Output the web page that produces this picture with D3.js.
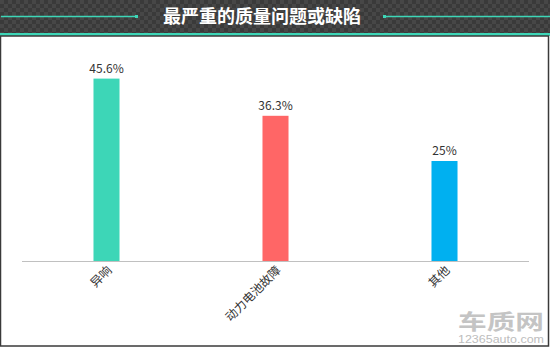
<!DOCTYPE html>
<meta charset="utf-8">
<body style="margin:0">
  <style>
    body { font-family: "Noto Sans CJK SC", "Noto Sans", sans-serif; }
    .axis path, .axis line { stroke: #c0c0c0; }
  </style>
  <div id="chart"></div>
  <script src="https://d3js.org/d3.v7.min.js"></script>
  <script>
    var categories = ["异响", "动力电池故障", "其他"];
    var values = [45.6, 36.3, 25];
    var valueLabels = ["45.6%", "36.3%", "25%"];
    var colors = ["#3dd6b7", "#ff6666", "#00b0f0"];
    var title = "最严重的质量问题或缺陷";

    var W = 550, H = 347;
    var margin = { top: 61, left: 22, right: 21, bottom: 86 };
    var width = W - margin.left - margin.right,
      height = H - margin.top - margin.bottom;

    var svg = d3.select("#chart").append("svg")
      .attr("width", W)
      .attr("height", H);

    // checkered header pattern
    var defs = svg.append("defs");
    var pat = defs.append("pattern")
      .attr("id", "checks")
      .attr("width", 8).attr("height", 8)
      .attr("patternUnits", "userSpaceOnUse");
    pat.append("rect").attr("width", 8).attr("height", 8).attr("fill", "#3a3a3a");
    pat.append("rect").attr("width", 4).attr("height", 4).attr("fill", "#474747");
    pat.append("rect").attr("x", 4).attr("y", 4).attr("width", 4).attr("height", 4).attr("fill", "#474747");

    svg.append("rect").attr("width", W).attr("height", H).attr("fill", "#fff");
    svg.append("rect").attr("width", W).attr("height", 34).attr("fill", "url(#checks)");
    svg.append("rect").attr("y", 33).attr("width", W).attr("height", 3).attr("fill", "#3dd6b7");

    // outer border for the white area
    svg.append("rect")
      .attr("x", 0.5).attr("y", 36)
      .attr("width", W - 2).attr("height", H - 37)
      .attr("fill", "none")
      .attr("stroke", "#3a3a3a")
      .attr("stroke-width", 1.5);

    // title + decorative lines
    svg.append("text")
      .attr("x", 262).attr("y", 23)
      .attr("text-anchor", "middle")
      .attr("fill", "#fff")
      .style("font-weight", "bold")
      .style("font-size", "18px")
      .text(title);

    svg.append("line").attr("x1", 1).attr("x2", 137).attr("y1", 16.5).attr("y2", 16.5)
      .attr("stroke", "#3dd6b7").attr("stroke-width", 1.5);
    svg.append("rect").attr("x", 135).attr("y", 15).attr("width", 3).attr("height", 3).attr("fill", "#3dd6b7");
    svg.append("line").attr("x1", 384).attr("x2", W).attr("y1", 16.5).attr("y2", 16.5)
      .attr("stroke", "#3dd6b7").attr("stroke-width", 1.5);
    svg.append("rect").attr("x", 383).attr("y", 15).attr("width", 3).attr("height", 3).attr("fill", "#3dd6b7");

    var g = svg.append("g")
      .attr("transform", "translate(" + margin.left + "," + margin.top + ")");

    var x = d3.scaleBand()
      .domain(categories)
      .range([0, width])
      .paddingInner(0.846)
      .paddingOuter(0.423);

    var y = d3.scaleLinear()
      .domain([0, 50])
      .range([height, 0]);

    g.selectAll(".bar")
      .data(values)
      .enter().append("rect")
      .attr("class", "bar")
      .attr("x", function(d, i) { return x(categories[i]); })
      .attr("y", function(d) { return y(d); })
      .attr("width", x.bandwidth())
      .attr("height", function(d) { return height - y(d); })
      .attr("fill", function(d, i) { return colors[i]; });

    g.selectAll(".val")
      .data(values)
      .enter().append("text")
      .attr("class", "val")
      .attr("x", function(d, i) { return x(categories[i]) + x.bandwidth() / 2; })
      .attr("y", function(d) { return y(d) - 6; })
      .attr("text-anchor", "middle")
      .attr("fill", "#333")
      .style("font-size", "12px")
      .text(function(d, i) { return valueLabels[i]; });

    var xAxis = g.append("g")
      .attr("class", "axis")
      .attr("transform", "translate(0," + height + ")")
      .call(d3.axisBottom(x).tickSize(0).tickPadding(0));

    xAxis.select(".domain").attr("d", "M0,0.5H" + width);

    xAxis.selectAll("text")
      .attr("fill", "#333")
      .style("font-size", "12px")
      .style("font-family", "'Noto Sans CJK SC', sans-serif")
      .attr("text-anchor", "end")
      .attr("dy", null)
      .attr("y", 0)
      .attr("transform", "translate(6,10) rotate(-45)");

    // watermark
    svg.append("text")
      .attr("x", 458).attr("y", 329)
      .attr("fill", "#c4c4c4")
      .attr("textLength", 86)
      .attr("lengthAdjust", "spacingAndGlyphs")
      .style("font-size", "21px")
      .style("font-weight", "bold")
      .text("车质网");
    svg.append("text")
      .attr("x", 458).attr("y", 343)
      .attr("fill", "#bdbdbd")
      .attr("textLength", 86)
      .attr("lengthAdjust", "spacingAndGlyphs")
      .style("font-size", "10px")
      .style("font-family", "Arial, sans-serif")
      .text("12365auto.com");
  </script>
</body>
